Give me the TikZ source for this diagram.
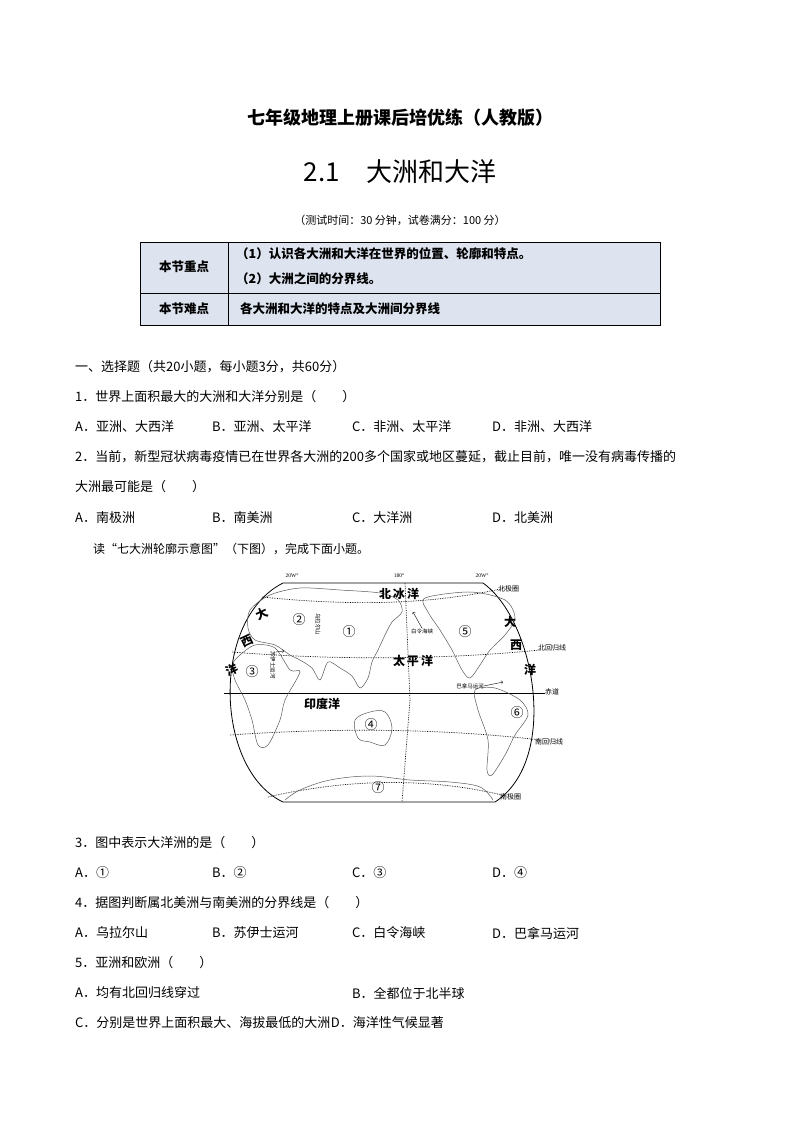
\documentclass[tikz,border=0pt]{standalone}
\usepackage{fontspec}
\setmainfont{Noto Sans CJK SC}
\newfontfamily\numfont{Liberation Serif}
\definecolor{tabfill}{RGB}{221,228,240}
\tikzset{
  txt/.style={anchor=west,inner sep=0pt,font=\fontsize{13}{13}\selectfont},
  tab/.style={inner sep=0pt,font=\fontsize{12.5}{12.5}\selectfont\bfseries},
  tiny/.style={inner sep=0pt,font=\fontsize{5.5}{5.5}\selectfont},
  ocean/.style={inner sep=0pt,font=\fontsize{12}{12}\selectfont\bfseries},
  num/.style={inner sep=0pt,font=\fontsize{13}{13}\selectfont},
  land/.style={gray!70!black,line width=0.5pt},
  lat/.style={densely dotted,line width=0.7pt}
}
\begin{document}
\begin{tikzpicture}[x=1pt,y=-1pt]
\useasboundingbox (0,0) rectangle (800,1132);

% Heading
\node[inner sep=0pt,font=\fontsize{18}{18}\selectfont\bfseries] (title) at (400,118) {七年级地理上册课后培优练（人教版）};
\node[inner sep=0pt,font=\fontsize{26}{26}\selectfont] (sub) at (400,172) {2.1\quad 大洲和大洋};
\node[inner sep=0pt,font=\fontsize{11}{11}\selectfont] (time) at (400,220) {（测试时间：30 分钟，试卷满分：100 分）};

% Table
\fill[tabfill] (140,242) rectangle (660,325);
\draw[line width=0.8pt] (140,242) rectangle (660,325);
\draw[line width=0.8pt] (140,293) -- (660,293);
\draw[line width=0.8pt] (228,242) -- (228,325);
\node[tab] (key) at (184,267) {本节重点};
\node[tab] (hard) at (184,309) {本节难点};
\node[tab,anchor=west] (key1) at (236,254) {（1）认识各大洲和大洋在世界的位置、轮廓和特点。};
\node[tab,anchor=west] (key2) at (236,279) {（2）大洲之间的分界线。};
\node[tab,anchor=west] (hard1) at (240,309) {各大洲和大洋的特点及大洲间分界线};

% Questions
\node[txt] (sec) at (75,367) {一、选择题（共20小题，每小题3分，共60分）};
\node[txt] (q1) at (75,397) {1．世界上面积最大的大洲和大洋分别是（　　）};
\node[txt] (q1a) at (75,427) {A．亚洲、大西洋};
\node[txt] (q1b) at (212,427) {B．亚洲、太平洋};
\node[txt] (q1c) at (352,427) {C．非洲、太平洋};
\node[txt] (q1d) at (492,427) {D．非洲、大西洋};
\node[txt] (q2) at (75,457) {2．当前，新型冠状病毒疫情已在世界各大洲的200多个国家或地区蔓延，截止目前，唯一没有病毒传播的};
\node[txt] (q2b) at (75,487) {大洲最可能是（　　）};
\node[txt] (q2a) at (75,518) {A．南极洲};
\node[txt] (q2bb) at (212,518) {B．南美洲};
\node[txt] (q2c) at (352,518) {C．大洋洲};
\node[txt] (q2d) at (492,518) {D．北美洲};
\node[txt,font=\fontsize{12}{12}\selectfont] (read) at (93,549) {读“七大洲轮廓示意图”（下图），完成下面小题。};

% Map frame
\draw[line width=0.8pt] (283,583) -- (483,583)
  .. controls (535,620) and (560,760) .. (495,802) -- (283,802)
  .. controls (215,770) and (210,620) .. (283,583);
\draw[line width=0.9pt] (224,693) -- (545,693);
\draw[lat] (405,583) -- (410,700) -- (402,802);
\draw[lat] (262,597) .. controls (350,606) and (430,605) .. (505,588);
\draw[lat] (232,652) .. controls (330,660) and (440,660) .. (540,650);
\draw[lat] (230,735) .. controls (330,728) and (440,728) .. (540,740);
\draw[lat] (268,797) .. controls (350,778) and (430,778) .. (502,795);

% Continents
\draw[land] plot[smooth cycle,tension=0.5] coordinates {(250,610) (270,595) (300,588) (340,590) (380,593) (398,600) (402,612) (392,622) (385,635) (378,650) (372,662) (368,678) (360,688) (352,676) (340,668) (328,662) (320,680) (312,668) (300,660) (290,655) (275,645) (255,640) (248,628)};
\draw[land] plot[smooth cycle,tension=0.5] coordinates {(240,655) (255,645) (275,648) (290,670) (300,672) (285,700) (280,720) (268,745) (258,745) (252,720) (245,700) (235,680) (232,665)};
\draw[land] plot[smooth cycle,tension=0.6] coordinates {(355,720) (370,712) (385,712) (392,728) (385,745) (370,742) (358,738)};
\draw[land] plot[smooth cycle,tension=0.5] coordinates {(425,598) (470,592) (505,600) (515,618) (505,635) (490,650) (480,665) (470,678) (462,670) (452,650) (440,630) (428,612)};
\draw[land] plot[smooth cycle,tension=0.5] coordinates {(475,690) (495,688) (520,700) (528,715) (515,735) (505,755) (492,775) (487,770) (488,740) (478,710)};
\draw[land] plot[smooth,tension=0.6] coordinates {(285,800) (300,790) (330,780) (370,776) (410,780) (450,782) (480,787) (493,800)};

% Map labels
\node[tiny] (w1) at (292,576) {\numfont 20W°};
\node[tiny] (m180) at (399,576) {\numfont 180°};
\node[tiny] (w2) at (482,576) {\numfont 20W°};
\node[tiny,anchor=west,font=\fontsize{7}{7}\selectfont] (arc) at (498,589) {北极圈};
\node[tiny,anchor=west,font=\fontsize{7}{7}\selectfont] (ncan) at (538,648) {北回归线};
\node[tiny,anchor=west,font=\fontsize{7}{7}\selectfont] (eq) at (545,692) {赤道};
\node[tiny,anchor=west,font=\fontsize{7}{7}\selectfont] (scap) at (535,742) {南回归线};
\node[tiny,anchor=west,font=\fontsize{7}{7}\selectfont] (ant) at (500,797) {南极圈};
\node[ocean] (arctic) at (399,594) {北\,冰\,洋};
\node[ocean] (pacific) at (413,661) {太\,平\,洋};
\node[ocean] (indian) at (322,704) {印度洋};
\node[ocean,rotate=25] (atl1) at (262,614) {大};
\node[ocean,rotate=25] (atl2) at (247,641) {西};
\node[ocean,rotate=25] (atl3) at (232,670) {洋};
\node[ocean] (atl4) at (510,622) {大};
\node[ocean] (atl5) at (516,645) {西};
\node[ocean] (atl6) at (530,670) {洋};
\node[tiny] (bering) at (422,631) {白令海峡};
\node[tiny] (panama) at (470,686) {巴拿马运河};
\node[tiny,rotate=-90] (suez) at (273,665) {苏伊士运河};
\node[tiny,rotate=-90] (ural) at (318,624) {乌拉尔山};
\draw[->,line width=0.4pt] (bering.north) -- (413,612);
\draw[->,line width=0.4pt] (panama.east) -- (503,682);
\draw[->,line width=0.4pt] (276,652) -- (284,651);
\node[num] (c1) at (349,632) {①};
\node[num] (c2) at (299,620) {②};
\node[num] (c3) at (252,672) {③};
\node[num] (c4) at (371,725) {④};
\node[num] (c5) at (465,632) {⑤};
\node[num] (c6) at (517,713) {⑥};
\node[num] (c7) at (378,788) {⑦};

% More questions
\node[txt] (q3) at (75,843) {3．图中表示大洋洲的是（　　）};
\node[txt] (q3a) at (75,873) {A．①};
\node[txt] (q3b) at (212,873) {B．②};
\node[txt] (q3c) at (352,873) {C．③};
\node[txt] (q3d) at (492,873) {D．④};
\node[txt] (q4) at (75,903) {4．据图判断属北美洲与南美洲的分界线是（　　）};
\node[txt] (q4a) at (75,933) {A．乌拉尔山};
\node[txt] (q4b) at (212,933) {B．苏伊士运河};
\node[txt] (q4c) at (352,933) {C．白令海峡};
\node[txt] (q4d) at (492,933) {D．巴拿马运河};
\node[txt] (q5) at (75,963) {5．亚洲和欧洲（　　）};
\node[txt] (q5a) at (75,993) {A．均有北回归线穿过};
\node[txt] (q5b) at (352,993) {B．全都位于北半球};
\node[txt] (q5c) at (75,1023) {C．分别是世界上面积最大、海拔最低的大洲};
\node[txt] (q5d) at (q5c.east) {D．海洋性气候显著};
\end{tikzpicture}
\end{document}
